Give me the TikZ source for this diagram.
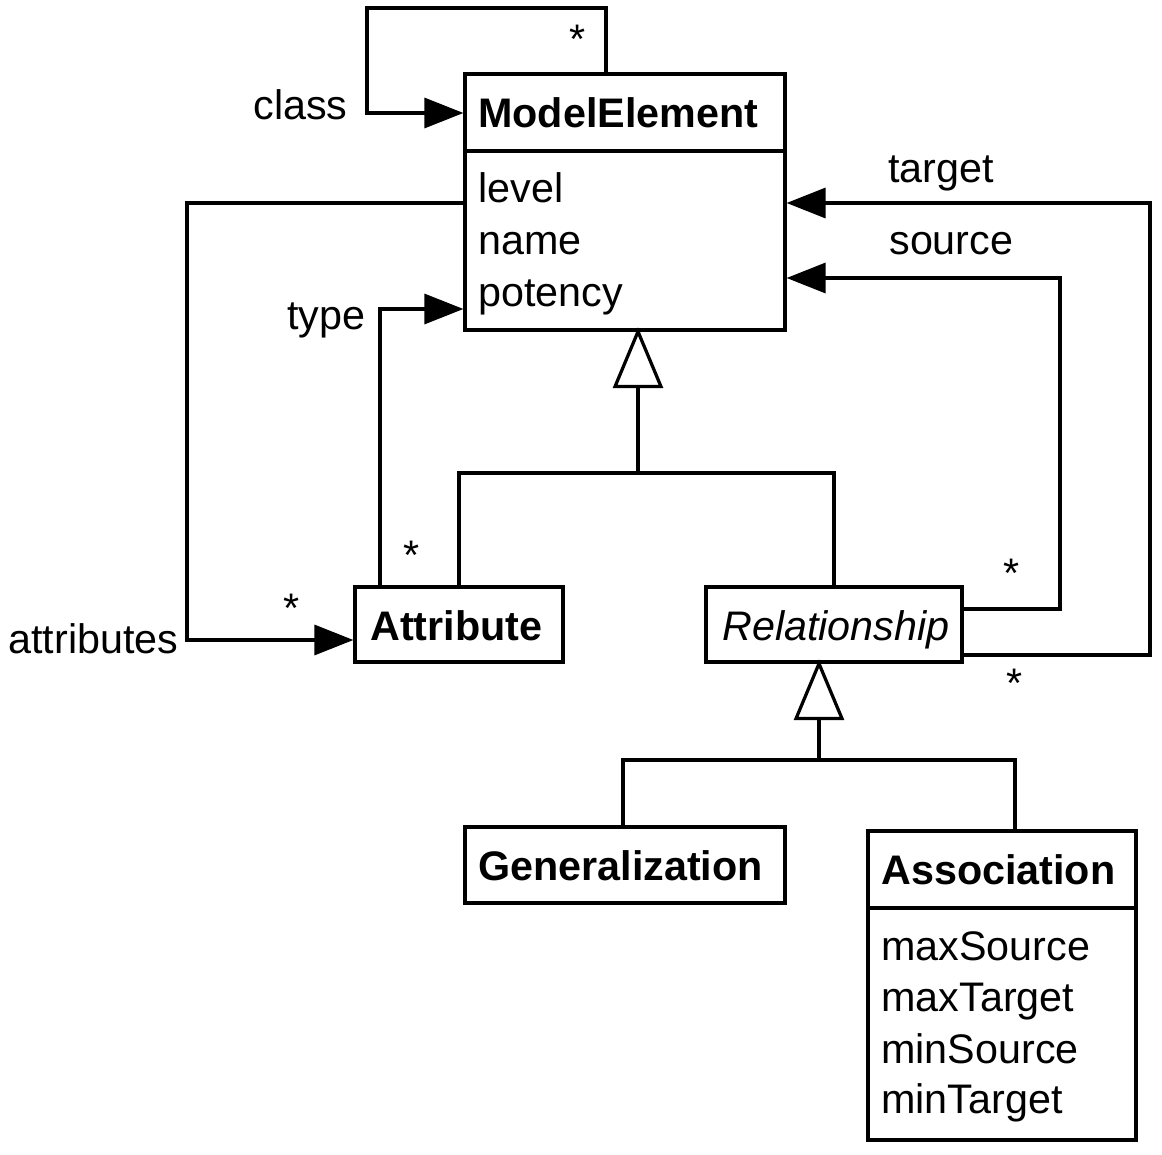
\documentclass[tikz,border=0pt]{standalone}
\usepackage{fontspec}
\setmainfont{Liberation Sans}
\usetikzlibrary{arrows.meta}
\begin{document}
\begin{tikzpicture}[x=0.02cm,y=-0.02cm,
  every node/.style={font=\fontsize{23.5}{27}\selectfont},
  ln/.style={line width=0.065cm},
  box/.style={draw,line width=0.065cm,inner sep=0pt,anchor=center},
  lbl/.style={inner sep=0pt,anchor=base west},
  star/.style={inner sep=0pt,anchor=base},
  arr/.style={ln,-{Triangle[length=0.78cm,width=0.6cm]}},
  gentri/.style={ln,fill=white,line join=miter}]
\useasboundingbox (0,0) rectangle (1162,1155);

% class boxes
\node[box,minimum width=6.4cm,minimum height=5.12cm] (me) at (625,202) {};
\node[box,minimum width=4.16cm,minimum height=1.5cm] (attr) at (459,624.5) {};
\node[box,minimum width=5.12cm,minimum height=1.5cm] (rel) at (834,624.5) {};
\node[box,minimum width=6.4cm,minimum height=1.52cm] (gen) at (625,865) {};
\node[box,minimum width=5.36cm,minimum height=6.18cm] (assoc) at (1002,985.5) {};

% compartment separators
\coordinate (sepA) at (0,151);
\coordinate (sepB) at (0,908);
\draw[ln] (me.west |- sepA) -- (me.east |- sepA);
\draw[ln] (assoc.west |- sepB) -- (assoc.east |- sepB);

% box texts
\node[lbl,font=\fontsize{23.5}{27}\selectfont\bfseries] (tme) at (478,128) {ModelElement};
\node[lbl] (tlevel) at (478,203) {level};
\node[lbl] (tname) at (478,255) {name};
\node[lbl] (tpot) at (478,307) {potency};
\node[lbl,font=\fontsize{23.5}{27}\selectfont\bfseries] (tattr) at (370,640) {Attribute};
\node[lbl,font=\fontsize{23.5}{27}\selectfont\itshape] (trel) at (722,640) {Relationship};
\node[lbl,font=\fontsize{23.5}{27}\selectfont\bfseries] (tgen) at (478,880) {Generalization};
\node[lbl,font=\fontsize{23.5}{27}\selectfont\bfseries] (tassoc) at (881,884) {Association};
\node[lbl] (tmaxs) at (881,960) {maxSource};
\node[lbl] (tmaxt) at (881,1011) {maxTarget};
\node[lbl] (tmins) at (881,1063) {minSource};
\node[lbl] (tmint) at (881,1113) {minTarget};

% waypoints
\coordinate (loopTR) at (606,8);
\coordinate (loopTL) at (367,8);
\coordinate (loopL) at (367,113);
\coordinate (aT) at (187,203);
\coordinate (aB) at (187,640);
\coordinate (tyT) at (380,309);
\coordinate (g1) at (638,473);
\coordinate (g2) at (819,760);
\coordinate (g2L) at (623,760);
\coordinate (g2R) at (1015,760);
\coordinate (sB) at (1060,609);
\coordinate (sT) at (1060,278);
\coordinate (tB) at (1150,655);
\coordinate (tT) at (1150,203);

% class self association
\draw[arr] (me.north -| loopTR) -- (loopTR) -- (loopTL) -- (loopL) -- (me.west |- loopL);
% attributes
\draw[arr] (me.west |- aT) -- (aT) -- (aB) -- (attr.west |- aB);
% type
\draw[arr] (attr.north -| tyT) -- (tyT) -- (me.west |- tyT);
% source / target
\draw[arr] (rel.east |- sB) -- (sB) -- (sT) -- (me.east |- sT);
\draw[arr] (rel.east |- tB) -- (tB) -- (tT) -- (me.east |- tT);

% generalization 1
\draw[ln] (attr.north) |- (g1) -| (rel.north);
\draw[ln] (g1) -- ++(0,-88);
\draw[gentri] (me.south -| g1) -- ++(23,55) -- ++(-46,0) -- cycle;
% generalization 2
\draw[ln] (gen.north -| g2L) -- (g2L) -- (g2R) -- (assoc.north -| g2R);
\draw[ln] (g2) -- ++(0,-43);
\draw[gentri] (rel.south -| g2) -- ++(23,55) -- ++(-46,0) -- cycle;

% role labels
\node[lbl] (lclass) at (253,120) {class};
\node[lbl] (ltype) at (287,330) {type};
\node[lbl] (lattrs) at (8,653) {attributes};
\node[lbl] (ltarget) at (888,183) {target};
\node[lbl] (lsource) at (889,255) {source};

% multiplicities
\node[star] (s1) at (578,54) {*};
\node[star] (s2) at (412,569) {*};
\node[star] (s3) at (292,622) {*};
\node[star] (s4) at (1012,587) {*};
\node[star] (s5) at (1015,697) {*};
\end{tikzpicture}
\end{document}
